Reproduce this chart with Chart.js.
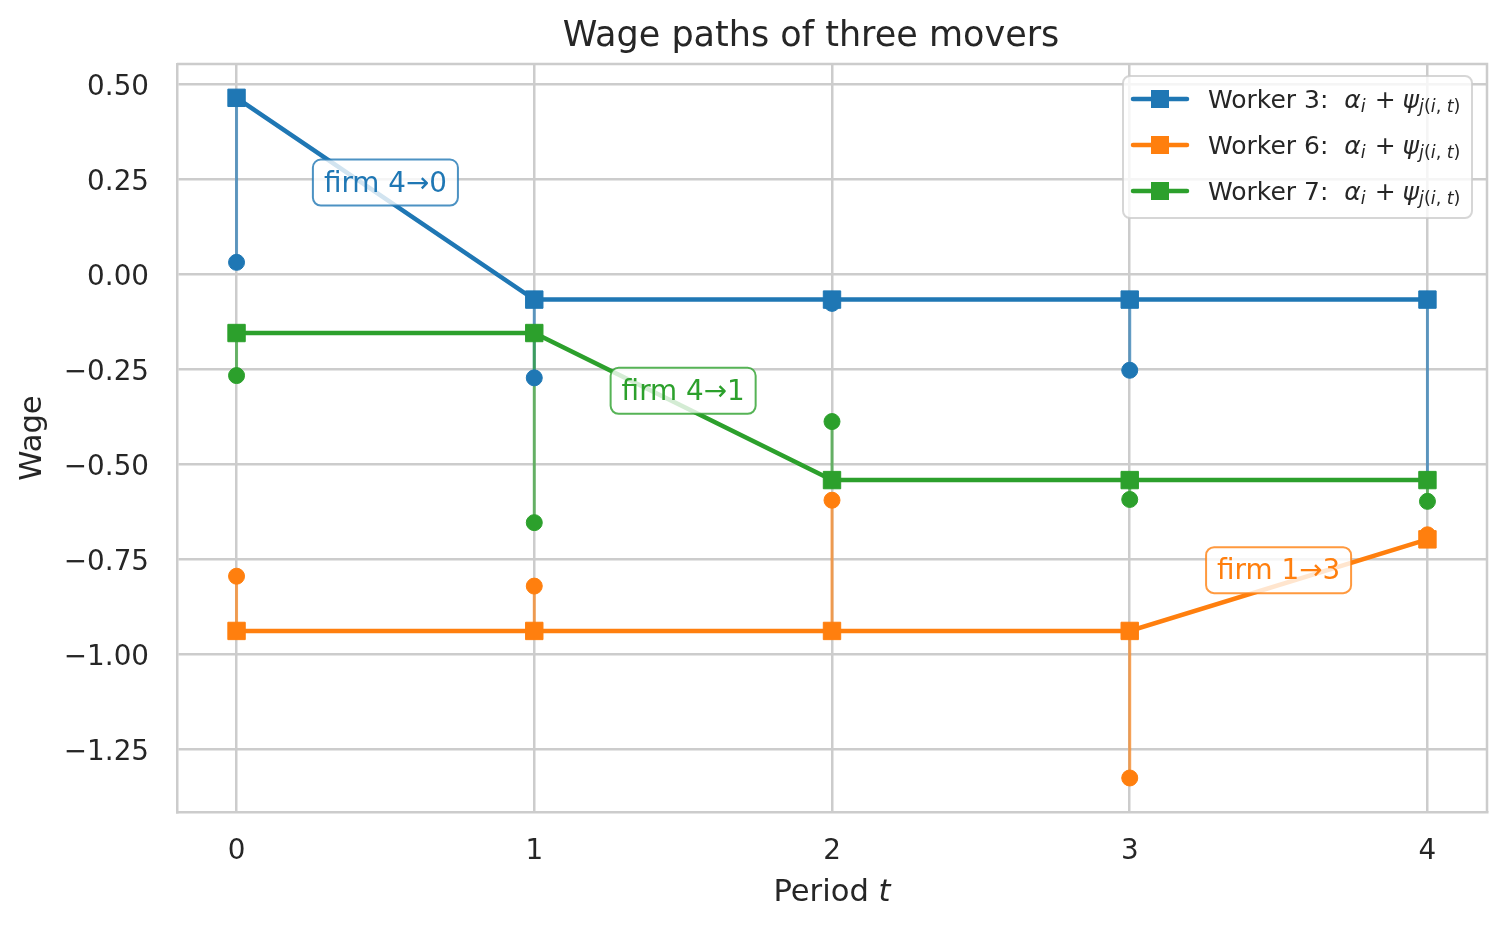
<!DOCTYPE html>
<html>
<head>
<meta charset="utf-8">
<script src="https://cdn.jsdelivr.net/npm/chart.js@4.4.1/dist/chart.umd.min.js"></script>
<style>
  html, body { margin: 0; padding: 0; background: #fff; }
</style>
</head>
<body>
<canvas id="wageChart" width="1505" height="927"></canvas>
<script>
// data
const periods = [0, 1, 2, 3, 4];
const xTicks = [0, 1, 2, 3, 4];
const yTicks = [0.5, 0.25, 0, -0.25, -0.5, -0.75, -1.0, -1.25];

const w3Fitted = [0.465, -0.066, -0.066, -0.066, -0.066];
const w3Actual = [0.032, -0.272, -0.076, -0.252, -0.540];
const w6Fitted = [-0.938, -0.938, -0.938, -0.938, -0.697];
const w6Actual = [-0.794, -0.820, -0.594, -1.325, -0.685];
const w7Fitted = [-0.154, -0.154, -0.541, -0.541, -0.541];
const w7Actual = [-0.266, -0.653, -0.387, -0.592, -0.597];

const workerIds = [3, 6, 7];
const workerColors = ["#1f77b4", "#ff7f0e", "#2ca02c"];
const stemColors = ["rgba(31,119,180,0.65)", "rgba(255,127,14,0.65)", "rgba(44,160,44,0.65)"];

const annoText = ["firm 4\u21920", "firm 4\u21921", "firm 1\u21923"];
const annoX = [0.5, 1.5, 3.5];
const annoY = [0.242, -0.306, -0.778];
const annoColor = [0, 2, 1];

const FONT = '"DejaVu Sans", sans-serif';
const INK = "#262626";
const GRID = "#cccccc";

const fitted = [w3Fitted, w6Fitted, w7Fitted];
const actual = [w3Actual, w6Actual, w7Actual];

function stemPoints(fit, act) {
    const pts = [];
    periods.forEach((t, i) => {
        pts.push({x: t, y: fit[i]}, {x: t, y: act[i]}, {x: t, y: null});
    });
    return pts;
}

const datasets = [];
// vertical residual stems (lowest layer)
workerIds.forEach((id, k) => {
    datasets.push({
        label: "stem" + id,
        data: stemPoints(fitted[k], actual[k]),
        borderColor: stemColors[k],
        borderWidth: 3,
        pointRadius: 0,
        spanGaps: false,
        order: 9 - k
    });
});
// observed wages (dots)
workerIds.forEach((id, k) => {
    datasets.push({
        label: "obs" + id,
        data: periods.map((t, i) => ({x: t, y: actual[k][i]})),
        showLine: false,
        pointStyle: "circle",
        pointRadius: 8,
        pointBorderWidth: 1,
        pointBackgroundColor: workerColors[k],
        pointBorderColor: workerColors[k],
        order: 6 - k
    });
});
// alpha_i + psi_j(i,t) paths
workerIds.forEach((id, k) => {
    datasets.push({
        label: "Worker " + id,
        data: periods.map((t, i) => ({x: t, y: fitted[k][i]})),
        borderColor: workerColors[k],
        borderWidth: 4.5,
        tension: 0,
        pointStyle: "rect",
        pointRadius: 12.3,
        pointBorderWidth: 1,
        pointBackgroundColor: workerColors[k],
        pointBorderColor: workerColors[k],
        order: 3 - k
    });
});

function fmtTick(v) {
    return v.toFixed(2).replace("-", "\u2212");
}

// frame on top and right (matplotlib spines)
const framePlugin = {
    id: "frame",
    beforeDatasetsDraw(chart) {
        const {ctx, chartArea: a} = chart;
        ctx.save();
        ctx.strokeStyle = GRID;
        ctx.lineWidth = 2.5;
        ctx.beginPath();
        ctx.moveTo(a.left, a.top);
        ctx.lineTo(a.right, a.top);
        ctx.lineTo(a.right, a.bottom);
        ctx.stroke();
        ctx.restore();
    }
};

function roundBox(ctx, x, y, w, h, r) {
    ctx.beginPath();
    ctx.moveTo(x + r, y);
    ctx.lineTo(x + w - r, y);
    ctx.arcTo(x + w, y, x + w, y + r, r);
    ctx.lineTo(x + w, y + h - r);
    ctx.arcTo(x + w, y + h, x + w - r, y + h, r);
    ctx.lineTo(x + r, y + h);
    ctx.arcTo(x, y + h, x, y + h - r, r);
    ctx.lineTo(x, y + r);
    ctx.arcTo(x, y, x + r, y, r);
    ctx.closePath();
}

// "firm a→b" boxes
const annoPlugin = {
    id: "annos",
    afterDatasetsDraw(chart) {
        const {ctx, scales} = chart;
        ctx.save();
        ctx.font = "27.8px " + FONT;
        annoText.forEach((txt, i) => {
            const px = scales.x.getPixelForValue(annoX[i]);
            const py = scales.y.getPixelForValue(annoY[i]);
            const col = workerColors[annoColor[i]];
            const w = ctx.measureText(txt).width + 22;
            const h = 46;
            roundBox(ctx, px - w / 2, py - h / 2, w, h, 8);
            ctx.fillStyle = "rgba(255,255,255,0.8)";
            ctx.fill();
            ctx.globalAlpha = 0.8;
            ctx.strokeStyle = col;
            ctx.lineWidth = 2;
            ctx.stroke();
            ctx.globalAlpha = 1;
            ctx.fillStyle = col;
            ctx.textAlign = "center";
            ctx.textBaseline = "alphabetic";
            ctx.fillText(txt, px, py + 9);
        });
        ctx.restore();
    }
};

function drawMath(ctx, x, base, id) {
    const fs = 25, ss = 17.5, drop = 4.5;
    const up = fs + "px " + FONT, it = "italic " + fs + "px " + FONT;
    const sup = ss + "px " + FONT, sit = "italic " + ss + "px " + FONT;
    const parts = [
        [up, "Worker " + id + ": ", 0, 8],
        [it, "\u03b1", 0, 0],
        [sit, "i", drop, 9],
        [up, "+", 0, 7],
        [it, "\u03c8", 0, 0],
        [sit, "j", drop, 0],
        [sup, "(", drop, 0],
        [sit, "i", drop, 0],
        [sup, ", ", drop, 0],
        [sit, "t", drop, 0],
        [sup, ")", drop, 0]
    ];
    parts.forEach((p) => {
        ctx.font = p[0];
        ctx.fillText(p[1], x, base + p[2]);
        x += ctx.measureText(p[1]).width + p[3];
    });
}

const legendPlugin = {
    id: "mathLegend",
    afterDraw(chart) {
        const {ctx} = chart;
        const bx = 1123, by = 76, bw = 349, bh = 142;
        const rows = [99, 145, 191];
        ctx.save();
        roundBox(ctx, bx, by, bw, bh, 7);
        ctx.fillStyle = "rgba(255,255,255,0.8)";
        ctx.fill();
        ctx.strokeStyle = "rgba(204,204,204,0.8)";
        ctx.lineWidth = 2;
        ctx.stroke();
        workerIds.forEach((id, k) => {
            const y = rows[k];
            ctx.strokeStyle = workerColors[k];
            ctx.lineWidth = 4.5;
            ctx.lineCap = "round";
            ctx.beginPath();
            ctx.moveTo(1133, y);
            ctx.lineTo(1187, y);
            ctx.stroke();
            ctx.fillStyle = workerColors[k];
            ctx.fillRect(1160 - 9, y - 9, 18, 18);
            ctx.fillStyle = INK;
            ctx.textAlign = "left";
            ctx.textBaseline = "alphabetic";
            drawMath(ctx, 1208, y + 8.5, id);
        });
        ctx.restore();
    }
};

const textPlugin = {
    id: "texts",
    afterDraw(chart) {
        const {ctx, chartArea: a} = chart;
        ctx.save();
        ctx.fillStyle = INK;
        ctx.textBaseline = "alphabetic";
        // title
        ctx.textAlign = "center";
        ctx.font = "35px " + FONT;
        ctx.fillText("Wage paths of three movers", 811, 46);
        // x axis title with italic t
        ctx.textAlign = "left";
        const f1 = "30.6px " + FONT, f2 = "italic 30.6px " + FONT;
        ctx.font = f1;
        const w1 = ctx.measureText("Period ").width;
        ctx.font = f2;
        const w2 = ctx.measureText("t").width;
        const x0 = (a.left + a.right) / 2 - (w1 + w2) / 2;
        ctx.font = f1;
        ctx.fillText("Period ", x0, 900.5);
        ctx.font = f2;
        ctx.fillText("t", x0 + w1, 900.5);
        ctx.restore();
    }
};

const ctx = document.getElementById("wageChart").getContext("2d");

const chart = new Chart(ctx, {
    type: "line",
    data: { datasets: datasets },
    options: {
        responsive: false,
        animation: false,
        devicePixelRatio: 1,
        layout: { padding: { left: 0, right: 18, top: 64, bottom: 0 } },
        scales: {
            x: {
                type: "linear",
                min: -0.2,
                max: 4.2,
                afterBuildTicks: (s) => { s.ticks = xTicks.map(v => ({value: v})); },
                afterFit: (s) => { s.height = 115; },
                grid: { color: GRID, lineWidth: 2.5, drawTicks: false },
                border: { color: GRID, width: 2.5 },
                ticks: {
                    color: INK,
                    padding: 23,
                    font: { family: FONT, size: 27.8 },
                    callback: (v) => String(v)
                }
            },
            y: {
                min: -1.4145,
                max: 0.554,
                afterBuildTicks: (s) => { s.ticks = yTicks.map(v => ({value: v})); },
                afterFit: (s) => { s.width = 177; },
                grid: { color: GRID, lineWidth: 2.5, drawTicks: false },
                border: { color: GRID, width: 2.5 },
                ticks: {
                    color: INK,
                    padding: 28,
                    labelOffset: 3,
                    font: { family: FONT, size: 27.8 },
                    callback: (v) => fmtTick(v)
                },
                title: {
                    display: true,
                    text: "Wage",
                    color: INK,
                    font: { family: FONT, size: 30.6 },
                    padding: { top: 15, bottom: 0 }
                }
            }
        },
        plugins: {
            legend: { display: false },
            tooltip: { enabled: false },
            title: { display: false }
        }
    },
    plugins: [framePlugin, annoPlugin, legendPlugin, textPlugin]
});
</script>
</body>
</html>
